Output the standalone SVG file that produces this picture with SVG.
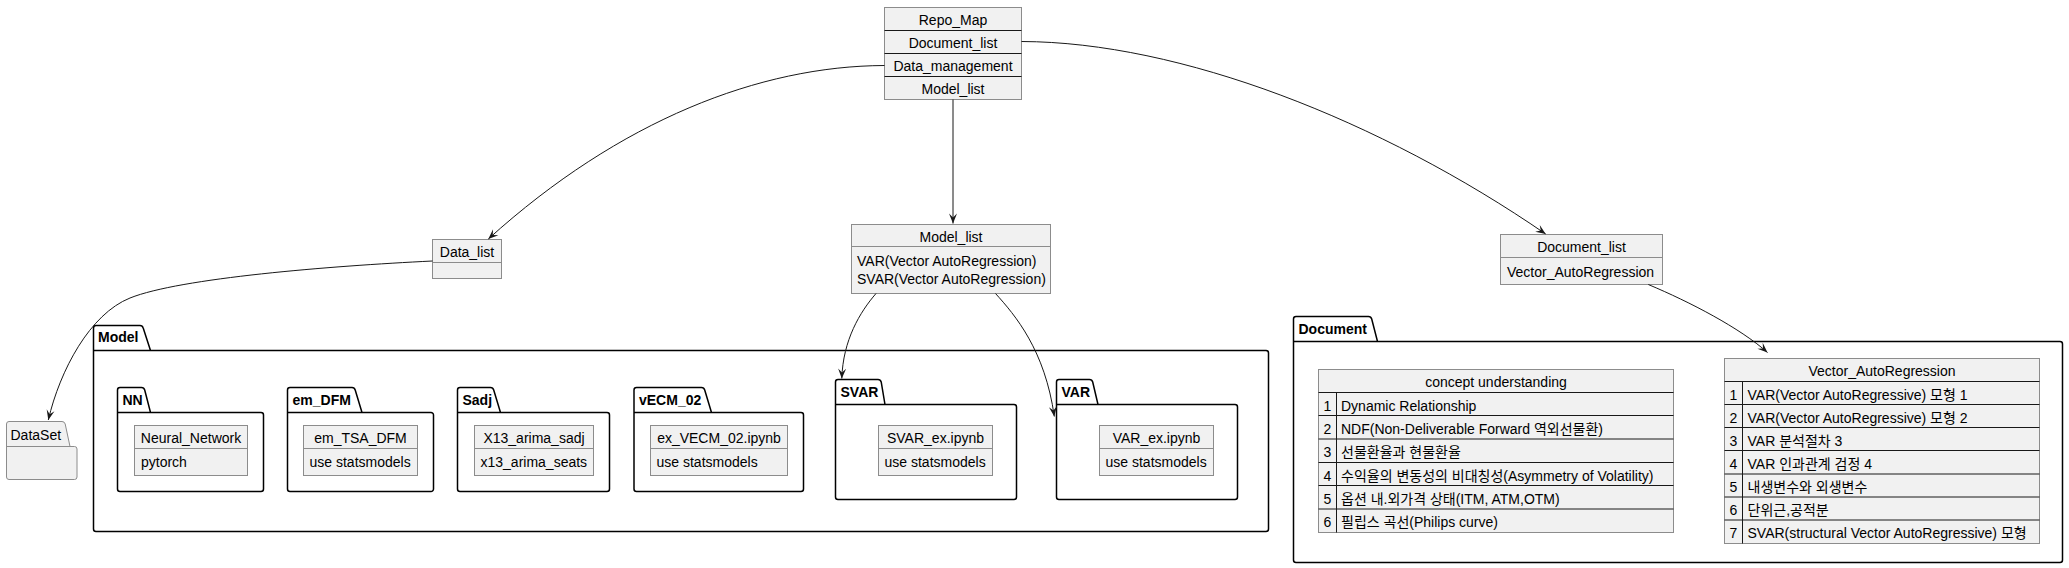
<svg xmlns="http://www.w3.org/2000/svg" width="2069" height="568" viewBox="0 0 2069 568">
<style>
.t{font-family:"Liberation Sans","Noto Sans CJK KR",sans-serif;font-size:14px;fill:#000}
.c{text-anchor:middle}
.b{font-weight:bold}
.box{fill:#F1F1F1;stroke:#8C8C8C;stroke-width:1}
.sep{stroke:#8C8C8C;stroke-width:1}
.dsep{stroke:#181818;stroke-width:1}
.pkg{fill:none;stroke:#000;stroke-width:1.5}
.fold{fill:#F1F1F1;stroke:#8C8C8C;stroke-width:1}
.edge{fill:none;stroke:#181818;stroke-width:1;marker-end:url(#arr)}
</style>
<defs>
<marker id="arr" viewBox="-11 -5 12 10" refX="0" refY="0" markerWidth="12" markerHeight="10" markerUnits="userSpaceOnUse" orient="auto">
<path d="M0,0 L-10,-4 L-6,0 L-10,4 Z" fill="#181818"/>
</marker>
</defs>
<rect width="2069" height="568" fill="#FFFFFF"/>

<!-- Packages -->
<g id="pkg-Model">
<path class="pkg" d="M96,325.5 L140,325.5 Q142.5,325.5 143.2,328 L150.5,350.5 L1266,350.5 A2.5,2.5 0 0 1 1268.5,353 L1268.5,529 A2.5,2.5 0 0 1 1266,531.5 L96,531.5 A2.5,2.5 0 0 1 93.5,529 L93.5,328 A2.5,2.5 0 0 1 96,325.5 Z M93.5,350.5 L150.5,350.5"/>
<text class="t b" x="98" y="342">Model</text>
</g>
<g id="pkg-NN">
<path class="pkg" d="M120,387.5 L141.5,387.5 Q144,387.5 144.7,390 L150.5,412.5 L261,412.5 A2.5,2.5 0 0 1 263.5,415 L263.5,489 A2.5,2.5 0 0 1 261,491.5 L120,491.5 A2.5,2.5 0 0 1 117.5,489 L117.5,390 A2.5,2.5 0 0 1 120,387.5 Z M117.5,412.5 L150.5,412.5"/>
<text class="t b" x="122.5" y="404.5">NN</text>
</g>
<g id="pkg-em_DFM">
<path class="pkg" d="M290,387.5 L352,387.5 Q354.5,387.5 355.2,390 L362,412.5 L431,412.5 A2.5,2.5 0 0 1 433.5,415 L433.5,489 A2.5,2.5 0 0 1 431,491.5 L290,491.5 A2.5,2.5 0 0 1 287.5,489 L287.5,390 A2.5,2.5 0 0 1 290,387.5 Z M287.5,412.5 L362,412.5"/>
<text class="t b" x="292.5" y="404.5">em_DFM</text>
</g>
<g id="pkg-Sadj">
<path class="pkg" d="M460,387.5 L490.5,387.5 Q493,387.5 493.7,390 L500.5,412.5 L607,412.5 A2.5,2.5 0 0 1 609.5,415 L609.5,489 A2.5,2.5 0 0 1 607,491.5 L460,491.5 A2.5,2.5 0 0 1 457.5,489 L457.5,390 A2.5,2.5 0 0 1 460,387.5 Z M457.5,412.5 L500.5,412.5"/>
<text class="t b" x="462.5" y="404.5">Sadj</text>
</g>
<g id="pkg-vECM_02">
<path class="pkg" d="M636.5,387.5 L701.5,387.5 Q704,387.5 704.7,390 L711.5,412.5 L801,412.5 A2.5,2.5 0 0 1 803.5,415 L803.5,489 A2.5,2.5 0 0 1 801,491.5 L636.5,491.5 A2.5,2.5 0 0 1 634,489 L634,390 A2.5,2.5 0 0 1 636.5,387.5 Z M634,412.5 L711.5,412.5"/>
<text class="t b" x="639" y="404.5">vECM_02</text>
</g>
<g id="pkg-SVAR">
<path class="pkg" d="M838,379.5 L878,379.5 Q880.5,379.5 881.2,382 L885,404.5 L1014,404.5 A2.5,2.5 0 0 1 1016.5,407 L1016.5,497 A2.5,2.5 0 0 1 1014,499.5 L838,499.5 A2.5,2.5 0 0 1 835.5,497 L835.5,382 A2.5,2.5 0 0 1 838,379.5 Z M835.5,404.5 L885,404.5"/>
<text class="t b" x="840.5" y="396.5">SVAR</text>
</g>
<g id="pkg-VAR">
<path class="pkg" d="M1059,379.5 L1089.5,379.5 Q1092,379.5 1092.7,382 L1098,404.5 L1235,404.5 A2.5,2.5 0 0 1 1237.5,407 L1237.5,497 A2.5,2.5 0 0 1 1235,499.5 L1059,499.5 A2.5,2.5 0 0 1 1056.5,497 L1056.5,382 A2.5,2.5 0 0 1 1059,379.5 Z M1056.5,404.5 L1098,404.5"/>
<text class="t b" x="1061.5" y="396.5">VAR</text>
</g>
<g id="pkg-Document">
<path class="pkg" d="M1296,316.5 L1368.5,316.5 Q1371,316.5 1371.7,319 L1377.5,341.5 L2060,341.5 A2.5,2.5 0 0 1 2062.5,344 L2062.5,560 A2.5,2.5 0 0 1 2060,562.5 L1296,562.5 A2.5,2.5 0 0 1 1293.5,560 L1293.5,319 A2.5,2.5 0 0 1 1296,316.5 Z M1293.5,341.5 L1377.5,341.5"/>
<text class="t b" x="1298.5" y="333.5">Document</text>
</g>

<!-- Class nodes -->
<g id="Repo_Map">
<rect class="box" x="884.5" y="7.5" width="137" height="92"/>
<line class="dsep" x1="884.5" y1="30.5" x2="1021.5" y2="30.5"/>
<line class="dsep" x1="884.5" y1="53.5" x2="1021.5" y2="53.5"/>
<line class="dsep" x1="884.5" y1="76.5" x2="1021.5" y2="76.5"/>
<text class="t c" x="953" y="24.5">Repo_Map</text>
<text class="t c" x="953" y="47.5">Document_list</text>
<text class="t c" x="953" y="70.5">Data_management</text>
<text class="t c" x="953" y="93.5">Model_list</text>
</g>
<g id="Data_list">
<rect class="box" x="432.5" y="239.5" width="69" height="39"/>
<line class="sep" x1="432.5" y1="262.5" x2="501.5" y2="262.5"/>
<text class="t c" x="467" y="256.5">Data_list</text>
</g>
<g id="Model_list">
<rect class="box" x="851.5" y="224.5" width="199" height="69"/>
<line class="sep" x1="851.5" y1="246.5" x2="1050.5" y2="246.5"/>
<text class="t c" x="951" y="241.5">Model_list</text>
<text class="t" x="857" y="265.5">VAR(Vector AutoRegression)</text>
<text class="t" x="857" y="284">SVAR(Vector AutoRegression)</text>
</g>
<g id="Document_list">
<rect class="box" x="1500.5" y="234.5" width="162" height="50"/>
<line class="sep" x1="1500.5" y1="257.5" x2="1662.5" y2="257.5"/>
<text class="t c" x="1581.5" y="251.5">Document_list</text>
<text class="t" x="1507" y="276.5">Vector_AutoRegression</text>
</g>
<g id="DataSet">
<path class="fold" d="M9,421.5 L62,421.5 Q64.5,421.5 65.2,424 L70,446.5 L74.5,446.5 A2.5,2.5 0 0 1 77,449 L77,477 A2.5,2.5 0 0 1 74.5,479.5 L9,479.5 A2.5,2.5 0 0 1 6.5,477 L6.5,424 A2.5,2.5 0 0 1 9,421.5 Z M6.5,446.5 L70,446.5"/>
<text class="t" x="10.5" y="440">DataSet</text>
</g>
<g id="Neural_Network">
<rect class="box" x="134.5" y="425.5" width="113" height="50"/>
<line class="sep" x1="134.5" y1="448.5" x2="247.5" y2="448.5"/>
<text class="t c" x="191" y="442.5">Neural_Network</text>
<text class="t" x="141" y="467">pytorch</text>
</g>
<g id="em_TSA_DFM">
<rect class="box" x="303.5" y="425.5" width="114" height="50"/>
<line class="sep" x1="303.5" y1="448.5" x2="417.5" y2="448.5"/>
<text class="t c" x="360.5" y="442.5">em_TSA_DFM</text>
<text class="t" x="309.5" y="467">use statsmodels</text>
</g>
<g id="X13_arima_sadj">
<rect class="box" x="474.5" y="425.5" width="119" height="50"/>
<line class="sep" x1="474.5" y1="448.5" x2="593.5" y2="448.5"/>
<text class="t c" x="534" y="442.5">X13_arima_sadj</text>
<text class="t" x="480.5" y="467">x13_arima_seats</text>
</g>
<g id="ex_VECM_02">
<rect class="box" x="650.5" y="425.5" width="137" height="50"/>
<line class="sep" x1="650.5" y1="448.5" x2="787.5" y2="448.5"/>
<text class="t c" x="719" y="442.5">ex_VECM_02.ipynb</text>
<text class="t" x="656.5" y="467">use statsmodels</text>
</g>
<g id="SVAR_ex">
<rect class="box" x="878.5" y="425.5" width="114" height="50"/>
<line class="sep" x1="878.5" y1="448.5" x2="992.5" y2="448.5"/>
<text class="t c" x="935.5" y="442.5">SVAR_ex.ipynb</text>
<text class="t" x="884.5" y="467">use statsmodels</text>
</g>
<g id="VAR_ex">
<rect class="box" x="1099.5" y="425.5" width="114" height="50"/>
<line class="sep" x1="1099.5" y1="448.5" x2="1213.5" y2="448.5"/>
<text class="t c" x="1156.5" y="442.5">VAR_ex.ipynb</text>
<text class="t" x="1105.5" y="467">use statsmodels</text>
</g>
<g id="concept_understanding">
<rect class="box" x="1318.5" y="369.5" width="355" height="163"/>
<line class="dsep" x1="1318.5" y1="392.5" x2="1673.5" y2="392.5"/>
<line class="dsep" x1="1318.5" y1="415.5" x2="1673.5" y2="415.5"/>
<line class="dsep" x1="1318.5" y1="439" x2="1673.5" y2="439"/>
<line class="dsep" x1="1318.5" y1="462.5" x2="1673.5" y2="462.5"/>
<line class="dsep" x1="1318.5" y1="485.5" x2="1673.5" y2="485.5"/>
<line class="dsep" x1="1318.5" y1="509" x2="1673.5" y2="509"/>
<line class="dsep" x1="1336.5" y1="392.5" x2="1336.5" y2="532.5"/>
<text class="t c" x="1496" y="386.5">concept understanding</text>
<text class="t c" x="1327.5" y="410.5">1</text>
<text class="t c" x="1327.5" y="433.5">2</text>
<text class="t c" x="1327.5" y="457">3</text>
<text class="t c" x="1327.5" y="480.5">4</text>
<text class="t c" x="1327.5" y="503.5">5</text>
<text class="t c" x="1327.5" y="527">6</text>
<text class="t" x="1341" y="410.5">Dynamic Relationship</text>
<text class="t" x="1341" y="433.5">NDF(Non-Deliverable Forward 역외선물환)</text>
<text class="t" x="1341" y="457">선물환율과 현물환율</text>
<text class="t" x="1341" y="480.5">수익율의 변동성의 비대칭성(Asymmetry of Volatility)</text>
<text class="t" x="1341" y="503.5">옵션 내.외가격 상태(ITM, ATM,OTM)</text>
<text class="t" x="1341" y="527">필립스 곡선(Philips curve)</text>
</g>
<g id="Vector_AutoRegression">
<rect class="box" x="1724.5" y="358.5" width="315" height="185"/>
<line class="dsep" x1="1724.5" y1="381.5" x2="2039.5" y2="381.5"/>
<line class="dsep" x1="1724.5" y1="404.5" x2="2039.5" y2="404.5"/>
<line class="dsep" x1="1724.5" y1="427.5" x2="2039.5" y2="427.5"/>
<line class="dsep" x1="1724.5" y1="450.5" x2="2039.5" y2="450.5"/>
<line class="dsep" x1="1724.5" y1="474" x2="2039.5" y2="474"/>
<line class="dsep" x1="1724.5" y1="497" x2="2039.5" y2="497"/>
<line class="dsep" x1="1724.5" y1="520" x2="2039.5" y2="520"/>
<line class="dsep" x1="1742.5" y1="381.5" x2="1742.5" y2="543.5"/>
<text class="t c" x="1882" y="375.5">Vector_AutoRegression</text>
<text class="t c" x="1733.5" y="399.5">1</text>
<text class="t c" x="1733.5" y="422.5">2</text>
<text class="t c" x="1733.5" y="445.5">3</text>
<text class="t c" x="1733.5" y="468.5">4</text>
<text class="t c" x="1733.5" y="492">5</text>
<text class="t c" x="1733.5" y="515">6</text>
<text class="t c" x="1733.5" y="538">7</text>
<text class="t" x="1747.5" y="399.5">VAR(Vector AutoRegressive) 모형 1</text>
<text class="t" x="1747.5" y="422.5">VAR(Vector AutoRegressive) 모형 2</text>
<text class="t" x="1747.5" y="445.5">VAR 분석절차 3</text>
<text class="t" x="1747.5" y="468.5">VAR 인과관계 검정 4</text>
<text class="t" x="1747.5" y="492">내생변수와 외생변수</text>
<text class="t" x="1747.5" y="515">단위근,공적분</text>
<text class="t" x="1747.5" y="538">SVAR(structural Vector AutoRegressive) 모형</text>
</g>

<!-- Connectors -->
<g id="connectors">
<path class="edge" d="M953,99.5 L953,223.5"/>
<path class="edge" d="M884.5,65.5 C760,66 620,120 488.3,239"/>
<path class="edge" d="M1021.5,41.5 C1180,42 1380,120 1545.7,234"/>
<path class="edge" d="M432.5,261 C330,266 180,278 130,298 C90,314 60,370 48.3,420"/>
<path class="edge" d="M876,293.5 C860,312 843,340 841.8,378.5"/>
<path class="edge" d="M995.5,293.5 C1015,315 1045,350 1054.3,416.5"/>
<path class="edge" d="M1648.3,284.5 C1690,302 1740,328 1767.5,352.5"/>
</g>
</svg>
